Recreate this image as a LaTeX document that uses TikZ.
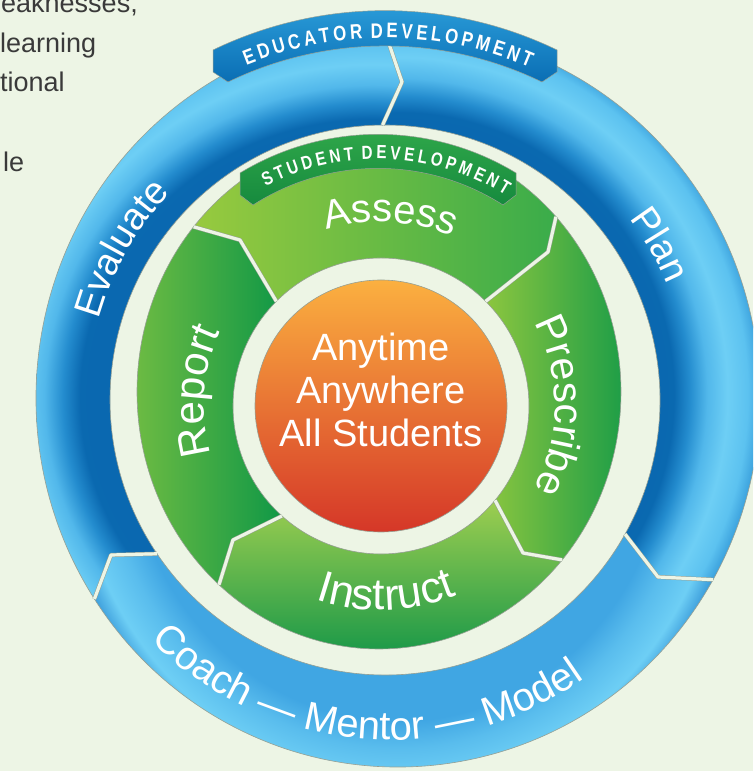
\documentclass[tikz,border=0pt]{standalone}
\usepackage{fontspec}
\setmainfont{Liberation Sans}
\newfontfamily\lblfont{Liberation Sans}
\newfontfamily\lblspaced[LetterSpace=6]{Liberation Sans}
\newfontfamily\bannerfont[FakeStretch=0.8]{Liberation Sans}
\usetikzlibrary{calc,decorations.text}
\definecolor{bgcol}{RGB}{237,245,229}
\definecolor{txtgray}{RGB}{58,58,58}
\definecolor{edgegray}{RGB}{150,160,148}
\definecolor{asL}{RGB}{152,202,62}
\definecolor{asR}{RGB}{58,172,74}
\definecolor{prL}{RGB}{140,198,63}
\definecolor{prR}{RGB}{14,152,72}
\definecolor{inT}{RGB}{158,206,80}
\definecolor{inB}{RGB}{20,150,72}
\definecolor{reL}{RGB}{125,193,66}
\definecolor{reR}{RGB}{16,152,70}
\definecolor{edT}{RGB}{45,160,220}
\definecolor{edB}{RGB}{10,110,180}
\definecolor{stT}{RGB}{50,170,75}
\definecolor{stB}{RGB}{22,138,62}
\definecolor{orT}{RGB}{251,176,64}
\definecolor{orM}{RGB}{242,118,34}
\definecolor{orB}{RGB}{213,55,40}
% radial shadings: TikZ fits the 25bp radius to the path's bounding box
\pgfdeclareradialshading{bluering}{\pgfpoint{0bp}{0bp}}{%
 rgb(0bp)=(0.04,0.40,0.68);
 rgb(18.9bp)=(0.04,0.41,0.69);
 rgb(20bp)=(0.14,0.55,0.81);
 rgb(21.2bp)=(0.32,0.72,0.92);
 rgb(22.6bp)=(0.43,0.81,0.96);
 rgb(24bp)=(0.36,0.76,0.94);
 rgb(25bp)=(0.22,0.62,0.86);
 rgb(50bp)=(0.22,0.62,0.86)}
\pgfdeclareradialshading{bluelow}{\pgfpoint{0bp}{0bp}}{%
 rgb(0bp)=(0.25,0.65,0.89);
 rgb(18.75bp)=(0.25,0.65,0.89);
 rgb(20.5bp)=(0.35,0.74,0.93);
 rgb(22.5bp)=(0.43,0.81,0.96);
 rgb(24bp)=(0.20,0.58,0.84);
 rgb(25bp)=(0.05,0.42,0.70);
 rgb(50bp)=(0.05,0.42,0.70)}
\newcommand\lsp[1]{#1\kern3.5pt}
\begin{document}
\begin{tikzpicture}[x=1pt,y=1pt,
  seg/.style={draw=edgegray, line width=0.6pt},
  gapline/.style={draw=edgegray, line width=0.5pt, double=bgcol, double distance=3.2pt, line join=round},
  para/.style={anchor=base west, inner sep=0pt, text=txtgray, font=\fontsize{27}{32}\selectfont},
  ctr/.style={anchor=base, inner sep=0pt, text=white, font=\fontsize{38}{38}\selectfont}]
\useasboundingbox (0,0) rectangle (753,771);
\clip (0,0) rectangle (753,771);
\fill[bgcol] (0,0) rectangle (753,771);

% centres
\coordinate (Bo) at (398,373);
\coordinate (Bi) at (385,371);
\coordinate (Bt) at (390,369);
\coordinate (Go) at (379,379);
\coordinate (Gi) at (381,365);
\coordinate (Ec) at (385,365);
\coordinate (Sc) at (378,371);

% blue boundaries
\coordinate (bo1) at ($(Bo)+(92.2:362pt and 369pt)$);
\coordinate (bi1) at ($(Bi)+(90.5:275pt)$);
\coordinate (bt1) at (402,689);
\coordinate (bo2) at ($(Bo)+(-29.5:362pt and 369pt)$);
\coordinate (bi2) at ($(Bi)+(-29.2:275pt)$);
\coordinate (bt2) at (658,194);
\coordinate (bo3) at ($(Bo)+(213:362pt and 369pt)$);
\coordinate (bi3) at ($(Bi)+(214:275pt)$);
\coordinate (bt3) at (111,216);

% green boundaries
\coordinate (go1) at ($(Go)+(140:242pt and 257pt)$);
\coordinate (gi1) at ($(Gi)+(135:148pt)$);
\coordinate (gt1) at (240,531);
\coordinate (go2) at ($(Go)+(43:242pt and 257pt)$);
\coordinate (gi2) at ($(Gi)+(45:148pt)$);
\coordinate (gt2) at (548,519);
\coordinate (go3) at ($(Go)+(-40.8:242pt and 257pt)$);
\coordinate (gi3) at ($(Gi)+(-39.6:148pt)$);
\coordinate (gt3) at (523,218);
\coordinate (go4) at ($(Go)+(228.6:242pt and 257pt)$);
\coordinate (gi4) at ($(Gi)+(228:148pt)$);
\coordinate (gt4) at (233,231);

% paragraph text (cut by the left edge)
\node[para] (p1) at (1,758) {eaknesses,};
\node[para] (p2) at (0,718) {learning};
\node[para] (p3) at (0,679) {tional};
\node[para] (p4) at (3,599) {le};

% blue ring segments
\path[seg, path picture={\shade[shading=bluering] (Bo) ellipse [x radius=362pt, y radius=369pt];}]
  (bi3) -- (bt3) -- (bo3) arc[start angle=213, end angle=92.2, x radius=362pt, y radius=369pt]
  -- (bt1) -- (bi1) arc[start angle=90.5, end angle=214, radius=275pt] -- cycle;
\path[seg, path picture={\shade[shading=bluering] (Bo) ellipse [x radius=362pt, y radius=369pt];}]
  (bi1) -- (bt1) -- (bo1) arc[start angle=92.2, end angle=-29.5, x radius=362pt, y radius=369pt]
  -- (bt2) -- (bi2) arc[start angle=-29.2, end angle=90.5, radius=275pt] -- cycle;
\path[seg, path picture={\shade[shading=bluelow] (Bo) ellipse [x radius=362pt, y radius=369pt];}]
  (bi2) -- (bt2) -- (bo2) arc[start angle=-29.5, end angle=-147, x radius=362pt, y radius=369pt]
  -- (bt3) -- (bi3) arc[start angle=-146, end angle=-29.2, radius=275pt] -- cycle;

% green ring segments
\path[seg, path picture={\shade[left color=asL, right color=asR] (path picture bounding box.south west) rectangle (path picture bounding box.north east);}]
  (gi1) -- (gt1) -- (go1) arc[start angle=140, end angle=43, x radius=242pt, y radius=257pt]
  -- (gt2) -- (gi2) arc[start angle=45, end angle=135, radius=148pt] -- cycle;
\path[seg, path picture={\shade[left color=prL, right color=prR] (path picture bounding box.south west) rectangle (path picture bounding box.north east);}]
  (gi2) -- (gt2) -- (go2) arc[start angle=43, end angle=-40.8, x radius=242pt, y radius=257pt]
  -- (gt3) -- (gi3) arc[start angle=-39.6, end angle=45, radius=148pt] -- cycle;
\path[seg, path picture={\shade[top color=inT, bottom color=inB] (path picture bounding box.south west) rectangle (path picture bounding box.north east);}]
  (gi3) -- (gt3) -- (go3) arc[start angle=-40.8, end angle=-131.4, x radius=242pt, y radius=257pt]
  -- (gt4) -- (gi4) arc[start angle=-132, end angle=-39.6, radius=148pt] -- cycle;
\path[seg, path picture={\shade[left color=reL, right color=reR] (path picture bounding box.south west) rectangle (path picture bounding box.north east);}]
  (gi4) -- (gt4) -- (go4) arc[start angle=228.6, end angle=140, x radius=242pt, y radius=257pt]
  -- (gt1) -- (gi1) arc[start angle=135, end angle=228, radius=148pt] -- cycle;

% gaps between segments
\draw[gapline] (bi1) -- (bt1) -- (bo1);
\draw[gapline] (bi2) -- (bt2) -- (bo2);
\draw[gapline] (bi3) -- (bt3) -- (bo3);
\draw[gapline] (gi1) -- (gt1) -- (go1);
\draw[gapline] (gi2) -- (gt2) -- (go2);
\draw[gapline] (gi3) -- (gt3) -- (go3);
\draw[gapline] (gi4) -- (gt4) -- (go4);

% orange centre
\path[seg, path picture={\shade[top color=orT, middle color=orM, bottom color=orB] (path picture bounding box.south west) rectangle (path picture bounding box.north east);}]
  (Gi) circle (126pt);

% banners
\shadedraw[top color=edT, bottom color=edB, draw=edgegray, line width=0.5pt]
  (213,721) arc[start angle=115.79, end angle=64.21, radius=395.4pt] -- (557,699) -- (542,689)
  arc[start angle=64.14, end angle=115.86, radius=360pt] -- (213,699) -- cycle;
\shadedraw[top color=stT, bottom color=stB, draw=edgegray, line width=0.5pt]
  (240,598) arc[start angle=121.3, end angle=58.7, radius=265.7pt] -- (516,576) -- (503,566)
  arc[start angle=57.34, end angle=122.66, radius=231.6pt] -- (240,576) -- cycle;

% banner texts
\path[decorate, decoration={text along path, text align=center, text color=white,
  text={|\bannerfont\bfseries\fontsize{21}{21}\selectfont|{\lsp E}{\lsp D}{\lsp U}{\lsp C}{\lsp A}{\lsp T}{\lsp O}{\lsp R} {\lsp D}{\lsp E}{\lsp V}{\lsp E}{\lsp L}{\lsp O}{\lsp P}{\lsp M}{\lsp E}{\lsp N}T}}]
  ($(Ec)+(119.5:368pt)$) arc[start angle=119.5, end angle=59.5, radius=368pt];
\path[decorate, decoration={text along path, text align=center, text color=white,
  text={|\bannerfont\bfseries\fontsize{19}{19}\selectfont|{\lsp S}{\lsp T}{\lsp U}{\lsp D}{\lsp E}{\lsp N}{\lsp T} {\lsp D}{\lsp E}{\lsp V}{\lsp E}{\lsp L}{\lsp O}{\lsp P}{\lsp M}{\lsp E}{\lsp N}T}}]
  ($(Sc)+(122.9:241pt)$) arc[start angle=122.9, end angle=52.9, radius=241pt];

% blue ring labels
\path[decorate, decoration={text along path, text align=center, text color=white,
  text={|\lblfont\fontsize{38}{38}\selectfont|Evaluate}}]
  ($(Bt)+(180:303pt)$) arc[start angle=180, end angle=120.6, radius=303pt];
\path[decorate, decoration={text along path, text align=center, text color=white,
  text={|\lblfont\fontsize{38}{38}\selectfont|Plan}}]
  ($(Bt)+(60.2:301pt)$) arc[start angle=60.2, end angle=0.2, radius=301pt];
\path[decorate, decoration={text along path, text align=center, text color=white,
  text={|\lblfont\fontsize{40}{40}\selectfont|Coach — Mentor — Model}}]
  ($(Bt)+(210:338pt)$) arc[start angle=210, end angle=320, radius=338pt];

% green ring labels
\path[decorate, decoration={text along path, text align=center, text color=white,
  text={|\lblspaced\fontsize{40}{40}\selectfont|Assess}}]
  ($(Gi)+(127.2:184pt)$) arc[start angle=127.2, end angle=47.2, radius=184pt];
\path[decorate, decoration={text along path, text align=center, text color=white,
  text={|\lblspaced\fontsize{41}{41}\selectfont|Prescribe}}]
  ($(Gi)+(60:174pt)$) arc[start angle=60, end angle=-60, radius=174pt];
\path[decorate, decoration={text along path, text align=center, text color=white,
  text={|\lblspaced\fontsize{42}{42}\selectfont|Report}}]
  ($(Gi)+(235.5:177pt)$) arc[start angle=235.5, end angle=115.5, radius=177pt];
\path[decorate, decoration={text along path, text align=center, text color=white,
  text={|\lblspaced\fontsize{44}{44}\selectfont|Instruct}}]
  ($(Gi)+(221.5:204pt)$) arc[start angle=221.5, end angle=321.5, radius=204pt];

% centre text
\node[ctr] (c1) at (381,410) {Anytime};
\node[ctr] (c2) at (381,367) {Anywhere};
\node[ctr] (c3) at (381,324) {All Students};
\end{tikzpicture}
\end{document}
